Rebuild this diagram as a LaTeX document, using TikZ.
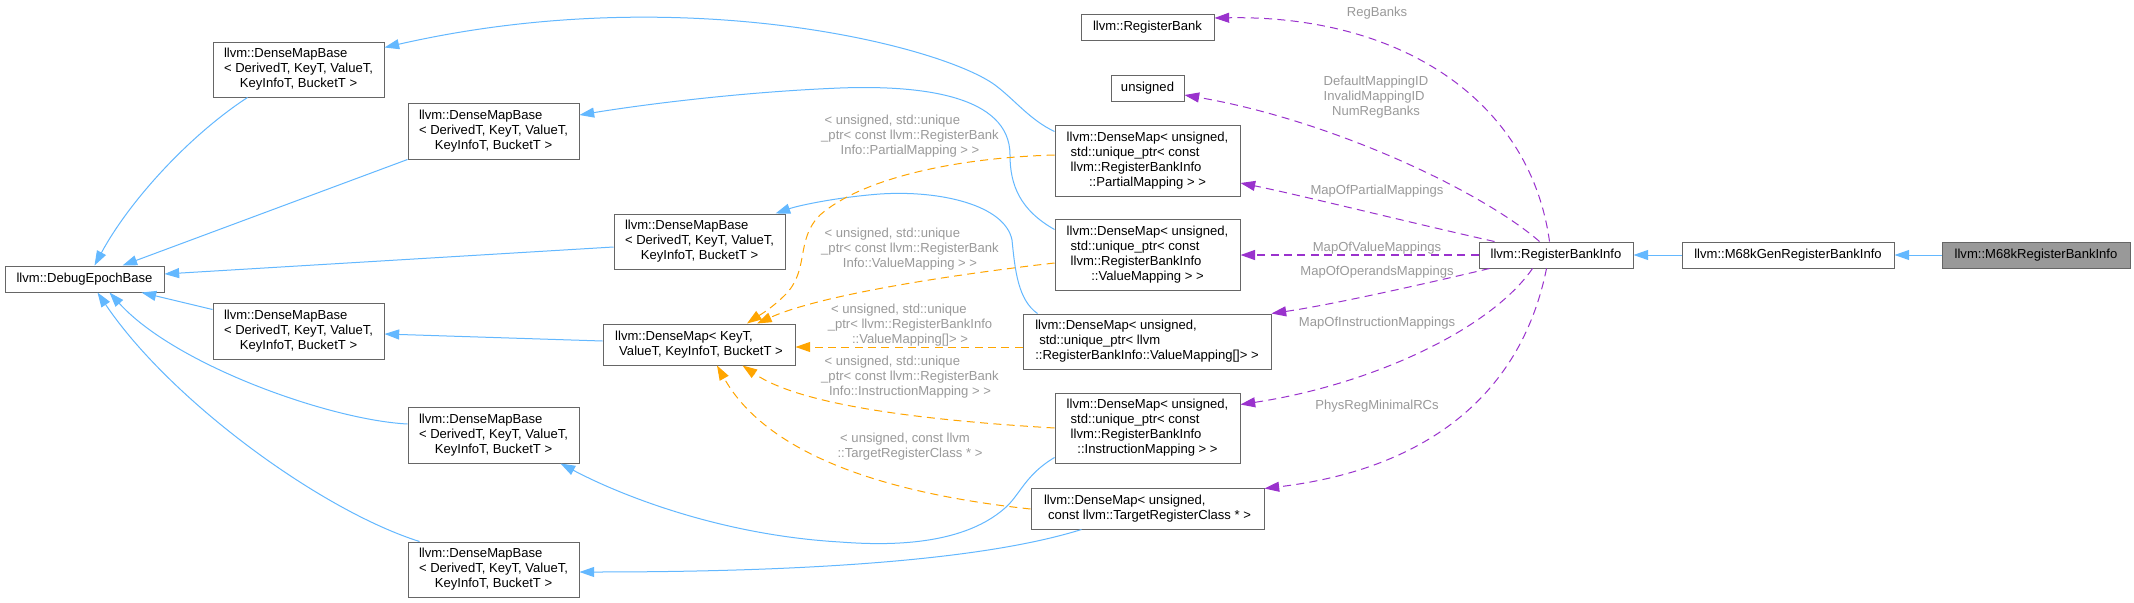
\documentclass[tikz,border=0pt]{standalone}
\usepackage{fontspec}
\setmainfont{Liberation Sans}
\usetikzlibrary{arrows.meta,calc}
\definecolor{eblue}{HTML}{63B8FF}
\definecolor{eorange}{HTML}{FFA500}
\definecolor{epurple}{HTML}{9A32CD}
\definecolor{lgray}{HTML}{9A9A9A}
\definecolor{bgray}{HTML}{666666}
\definecolor{nfill}{HTML}{999999}
\newcommand{\cc}[1]{\multicolumn{1}{@{}c@{}}{#1}}
\newcommand{\ind}{\hspace*{3pt}}
\newcommand{\dmbtext}{\begin{tabular}{@{}l@{}}llvm::DenseMapBase\\< DerivedT, KeyT, ValueT,\\\cc{KeyInfoT, BucketT >}\end{tabular}}
\newcommand{\dmfour}[1]{\begin{tabular}{@{}l@{}}\cc{llvm::DenseMap< unsigned,}\\\ind std::unique\_ptr< const\\\ind llvm::RegisterBankInfo\\\cc{::#1 > >}\end{tabular}}
\begin{document}
\begin{tikzpicture}[x=0.75pt,y=-0.75pt,
  box/.style={draw=bgray, line width=0.75pt, fill=white, inner sep=0pt, align=center, font=\fontsize{9.8}{11.25}\selectfont},
  sz/.style 2 args={minimum width=#1*0.75pt, minimum height=#2*0.75pt},
  inh/.style={draw=eblue, line width=0.75pt, -{Triangle[length=11pt,width=7.5pt]}},
  tmpl/.style={draw=eorange, line width=0.75pt, dash pattern=on 6pt off 4pt, -{Triangle[length=11pt,width=7.5pt]}},
  memb/.style={draw=epurple, line width=0.75pt, dash pattern=on 6pt off 4pt, -{Triangle[length=11pt,width=7.5pt]}},
  lab/.style={text=lgray, inner sep=0pt, align=center, font=\fontsize{9.8}{11.25}\selectfont}]
\fill[white] (0,0) rectangle (2134,603);
\useasboundingbox (0,0) rectangle (2134,603);

% nodes
\node[box,sz={159}{26}] (deb) at (84.5,279) {llvm::DebugEpochBase};
\node[box,sz={171}{55}] (dmb1) at (298.5,69.5) {\dmbtext};
\node[box,sz={171}{56}] (dmb2) at (493.5,131) {\dmbtext};
\node[box,sz={171}{55}] (dmb3) at (699.5,241.5) {\dmbtext};
\node[box,sz={171}{56}] (dmb4) at (298.5,331) {\dmbtext};
\node[box,sz={171}{56}] (dmb5) at (493.5,435) {\dmbtext};
\node[box,sz={171}{55}] (dmb6) at (493.5,569.5) {\dmbtext};
\node[box,sz={192}{41}] (dmk) at (699,344.5) {\begin{tabular}{@{}l@{}}llvm::DenseMap< KeyT,\\\ind ValueT, KeyInfoT, BucketT >\end{tabular}};
\node[box,sz={133}{26}] (rb) at (1147.5,27) {llvm::RegisterBank};
\node[box,sz={73}{26}] (uns) at (1147.5,88) {unsigned};
\node[box,sz={185}{71}] (dmpm) at (1147.5,160.5) {\dmfour{PartialMapping}};
\node[box,sz={185}{71}] (dmvm) at (1147.5,254.5) {\dmfour{ValueMapping}};
\node[box,sz={248}{55}] (dmva) at (1147,341.5) {\begin{tabular}{@{}l@{}}llvm::DenseMap< unsigned,\\\ind std::unique\_ptr< llvm\\::RegisterBankInfo::ValueMapping[]> >\end{tabular}};
\node[box,sz={185}{70}] (dmim) at (1147.5,428) {\dmfour{InstructionMapping}};
\node[box,sz={233}{41}] (dmtrc) at (1147.5,508.5) {\begin{tabular}{@{}l@{}}llvm::DenseMap< unsigned,\\\ind const llvm::TargetRegisterClass * >\end{tabular}};
\node[box,sz={154}{26}] (rbi) at (1556,255) {llvm::RegisterBankInfo};
\node[box,sz={212}{26}] (gen) at (1788,255) {llvm::M68kGenRegisterBankInfo};
\node[box,sz={188}{26},fill=nfill] (m68k) at (2036,255) {llvm::M68kRegisterBankInfo};

% inheritance edges
\draw[inh] ($(dmb1.south west)+(35,0)$) .. controls (190,135) and (130,200) .. ($(deb.north west)+(90,0)$);
\draw[inh] (dmb2.south west) -- ($(deb.north west)+(118,0)$);
\draw[inh] ($(dmb3.west)+(0,5.5)$) -- ($(deb.east)+(0,-5)$);
\draw[inh] ($(dmb4.north west)+(0,7)$) -- ($(deb.south west)+(137,0)$);
\draw[inh] ($(dmb5.west)+(0,-11)$) .. controls (330,420) and (175,365) .. ($(deb.south west)+(105,0)$);
\draw[inh] ($(dmb6.north west)+(12,0)$) .. controls (320,510) and (170,400) .. ($(deb.south west)+(93,0)$);
\draw[inh] ($(dmpm.north west)+(0,7)$) .. controls (1030,120) and (1015,100) .. (995,85) .. controls (940,45) and (680,-20) .. ($(dmb1.north east)+(0,6)$);
\draw[inh] ($(dmvm.north west)+(0,11)$) .. controls (1020,210) and (1010,185) .. (1010,155) .. controls (1010,95) and (920,85) .. (840,88) .. controls (740,92) and (640,105) .. ($(dmb2.east)+(0,-16)$);
\draw[inh] ($(dmva.north west)+(15,0)$) .. controls (1018,300) and (1015,270) .. (1012,240) .. controls (1005,205) and (940,190) .. (880,194) .. controls (840,197) and (800,205) .. ($(dmb3.north east)+(-10,0)$);
\draw[inh] ($(dmim.south west)+(0,-6)$) .. controls (1025,475) and (1020,495) .. (1005,508) .. controls (960,548) and (880,545) .. (840,542) .. controls (720,535) and (620,495) .. ($(dmb5.south east)+(-19,0)$);
\draw[inh] ($(dmtrc.south west)+(51,0)$) .. controls (1000,555) and (850,572) .. ($(dmb6.east)+(0,2.5)$);
\draw[inh] ($(dmk.west)+(0,-3.5)$) -- ($(dmb4.east)+(0,3)$);
\draw[inh] (gen) -- (rbi);
\draw[inh] (m68k) -- (gen);

% template edges
\draw[tmpl] ($(dmpm.west)+(0,-5.5)$) .. controls (950,158) and (860,180) .. (820,215) .. controls (795,240) and (810,270) .. (785,295) .. controls (770,310) and (755,318) .. ($(dmk.north)+(48,0)$);
\draw[tmpl] ($(dmvm.west)+(0,8.5)$) .. controls (950,275) and (820,295) .. ($(dmk.north)+(58,0)$);
\draw[tmpl] ($(dmva.west)+(0,5.5)$) -- ($(dmk.east)+(0,2.5)$);
\draw[tmpl] (dmim.west) .. controls (920,420) and (800,405) .. ($(dmk.south east)+(-53,0)$);
\draw[tmpl] ($(dmtrc.west)+(0,0.5)$) .. controls (900,495) and (770,460) .. ($(dmk.south)+(18,0)$);

% member edges
\draw[memb] ($(rbi.north west)+(71,0)$) .. controls (1530,100) and (1400,15) .. ($(rb.east)+(0,-9)$);
\draw[memb] ($(rbi.north west)+(61,0)$) .. controls (1480,190) and (1330,120) .. ($(uns.east)+(0,7)$);
\draw[memb] ($(rbi.north west)+(16,0)$) .. controls (1420,225) and (1300,195) .. ($(dmpm.east)+(0,22.5)$);
\draw[memb,line width=1.1pt] (rbi.west) -- (dmvm.east |- rbi.west);
\draw[memb] ($(rbi.south west)+(11,0)$) .. controls (1420,285) and (1330,305) .. (dmva.north east);
\draw[memb] ($(rbi.south west)+(54,0)$) .. controls (1490,330) and (1370,385) .. ($(dmim.north east)+(0,12)$);
\draw[memb] ($(rbi.south west)+(68,0)$) .. controls (1520,400) and (1420,470) .. ($(dmtrc.north east)+(0,1)$);

% template labels
\node[lab] (t1) at (910,136) {\begin{tabular}{@{}l@{}}\hspace*{2.5pt}< unsigned, std::unique\\\_ptr< const llvm::RegisterBank\\\cc{Info::PartialMapping > >}\end{tabular}};
\node[lab] (t2) at (910,249) {\begin{tabular}{@{}l@{}}\hspace*{2.5pt}< unsigned, std::unique\\\_ptr< const llvm::RegisterBank\\\cc{Info::ValueMapping > >}\end{tabular}};
\node[lab] (t3) at (910,325) {\begin{tabular}{@{}l@{}}\hspace*{2.5pt}< unsigned, std::unique\\\_ptr< llvm::RegisterBankInfo\\\cc{::ValueMapping[]> >}\end{tabular}};
\node[lab] (t4) at (910,377) {\begin{tabular}{@{}l@{}}\hspace*{2.5pt}< unsigned, std::unique\\\_ptr< const llvm::RegisterBank\\\cc{Info::InstructionMapping > >}\end{tabular}};
\node[lab] (t5) at (910,447) {\begin{tabular}{@{}l@{}}\hspace*{2pt}< unsigned, const llvm\\::TargetRegisterClass * >\end{tabular}};

% member labels
\node[lab] (m1) at (1377,13) {RegBanks};
\node[lab] (m2) at (1376,97) {\begin{tabular}{@{}l@{}}DefaultMappingID\\InvalidMappingID\\\cc{NumRegBanks}\end{tabular}};
\node[lab] (m3) at (1377,191) {MapOfPartialMappings};
\node[lab] (m4) at (1377,248) {MapOfValueMappings};
\node[lab] (m5) at (1377,272) {MapOfOperandsMappings};
\node[lab] (m6) at (1377,323) {MapOfInstructionMappings};
\node[lab] (m7) at (1377,406) {PhysRegMinimalRCs};
\end{tikzpicture}
\end{document}
